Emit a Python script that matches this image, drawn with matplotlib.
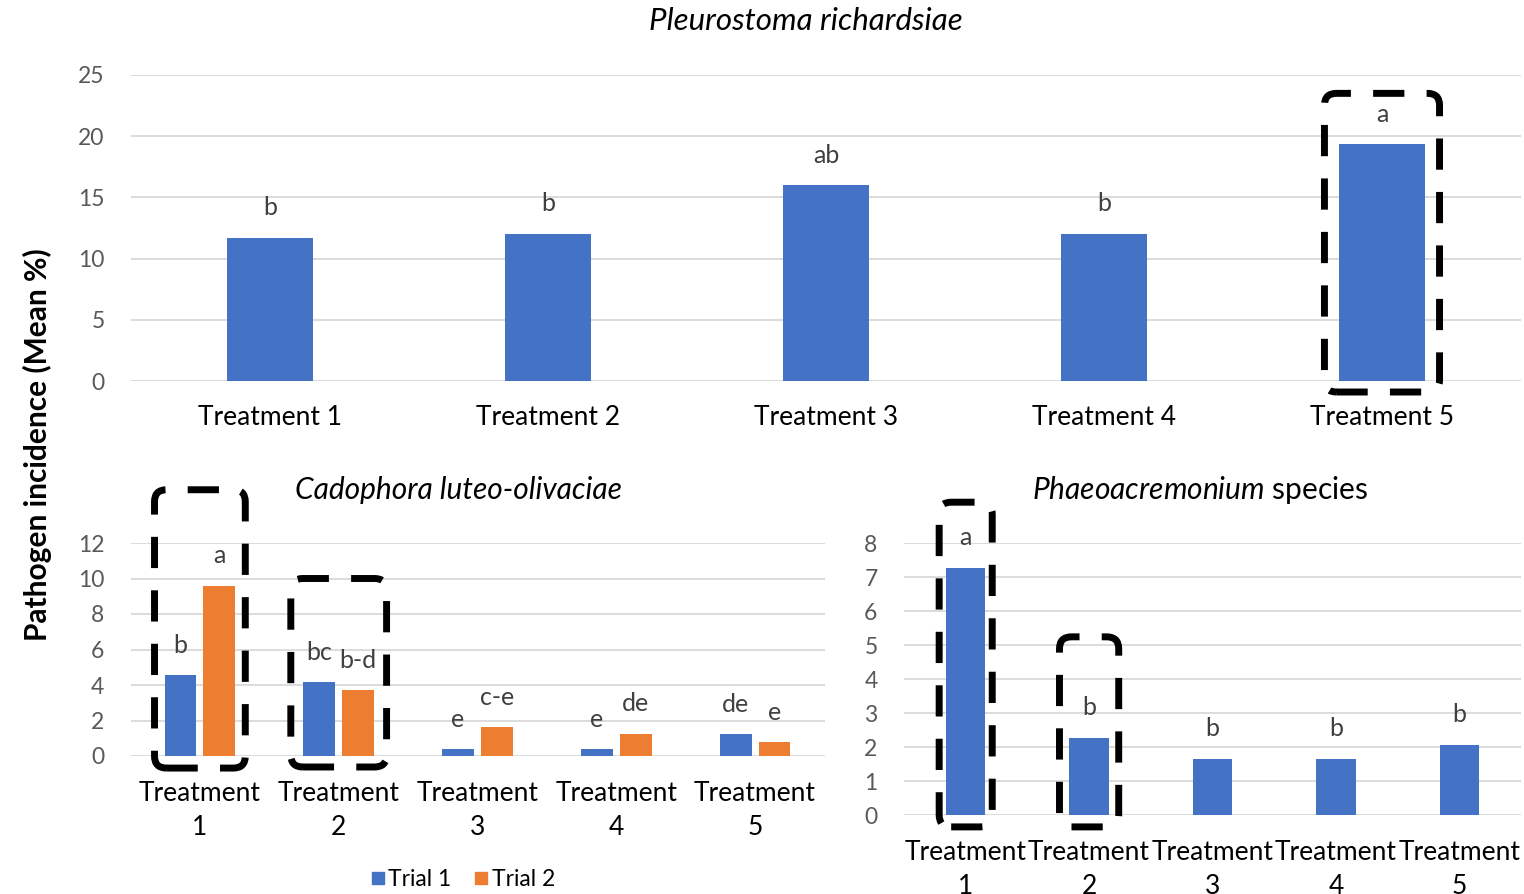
import matplotlib
matplotlib.use("Agg")
import matplotlib.pyplot as plt
from matplotlib.patches import FancyBboxPatch
from matplotlib.lines import Line2D
import numpy as np

# ---------------- data ----------------
top_categories = ["Treatment 1", "Treatment 2", "Treatment 3", "Treatment 4", "Treatment 5"]
top_values = [11.7, 12.05, 16.0, 12.05, 19.35]
top_letters = ["b", "b", "ab", "b", "a"]
top_title = "Pleurostoma richardsiae"
top_yticks = [0, 5, 10, 15, 20, 25]

cad_categories = ["Treatment\n1", "Treatment\n2", "Treatment\n3", "Treatment\n4", "Treatment\n5"]
cad_trial1 = [4.55, 4.15, 0.4, 0.4, 1.22]
cad_trial2 = [9.6, 3.72, 1.62, 1.25, 0.78]
cad_letters1 = ["b", "bc", "e", "e", "de"]
cad_letters2 = ["a", "b-d", "c-e", "de", "e"]
cad_title = "Cadophora luteo-olivaciae"
cad_yticks = [0, 2, 4, 6, 8, 10, 12]

pha_categories = ["Treatment\n1", "Treatment\n2", "Treatment\n3", "Treatment\n4", "Treatment\n5"]
pha_values = [7.27, 2.27, 1.66, 1.66, 2.07]
pha_letters = ["a", "b", "b", "b", "b"]
pha_yticks = [0, 1, 2, 3, 4, 5, 6, 7, 8]

series_names = ["Trial 1", "Trial 2"]
ylabel = "Pathogen incidence (Mean %)"

# ---------------- style ----------------
plt.rcParams['font.family'] = ['Lato', 'DejaVu Sans']
plt.rcParams['mathtext.fontset'] = 'custom'
plt.rcParams['mathtext.it'] = 'Lato:italic'
plt.rcParams['mathtext.rm'] = 'Lato'

BLUE = "#4472C4"
ORANGE = "#ED7D31"
GRID = "#D9D9D9"
TICK = "#595959"
LETTER = "#404040"
FS_TICK = 16.5
FS_CAT = 19
FS_LET = 18
FS_TITLE = 21.5

W, H = 1524, 894
fig = plt.figure(figsize=(W / 100, H / 100), dpi=100)


def px_axes(x0, x1, ytop, ybot):
    return fig.add_axes([x0 / W, 1 - ybot / H, (x1 - x0) / W, (ybot - ytop) / H])


def style(ax, ylim, yticks, cats, pad_y, pad_x, linespacing=1.2):
    ax.set_ylim(*ylim)
    ax.set_xlim(-0.5, len(cats) - 0.5)
    ax.set_yticks(yticks)
    ax.set_xticks(range(len(cats)))
    ax.set_xticklabels(cats, fontsize=FS_CAT, color="black", linespacing=linespacing)
    ax.tick_params(axis='y', length=0, pad=pad_y, labelsize=FS_TICK, labelcolor=TICK)
    ax.tick_params(axis='x', length=0, pad=pad_x)
    for s in ax.spines.values():
        s.set_visible(False)
    ax.yaxis.grid(True, color=GRID, linewidth=1.3)
    ax.set_axisbelow(True)


def letters(ax, xs, vals, labs):
    for x, v, t in zip(xs, vals, labs):
        ax.annotate(t, (x, v), xytext=(0, 21.5), textcoords="offset points",
                    ha="center", va="center", fontsize=FS_LET, color=LETTER)


def dashed_box(ax, xc, halfw, y0, y1, radius=12):
    fig.canvas.draw()
    (ax0, ay0) = ax.transData.transform((xc - halfw, y0))
    (ax1, ay1) = ax.transData.transform((xc + halfw, y1))
    p = FancyBboxPatch((ax0, ay0), ax1 - ax0, ay1 - ay0,
                       boxstyle=f"round,pad=0,rounding_size={radius}",
                       transform=None, fill=False, edgecolor="black",
                       linewidth=5, linestyle=(0, (4.5, 3.2)), capstyle="butt",
                       zorder=10)
    fig.add_artist(p)


# ---------------- top chart ----------------
ax1 = px_axes(131, 1521, 75, 381)
x = np.arange(len(top_categories))
ax1.bar(x, top_values, width=0.31, color=BLUE, zorder=3)
style(ax1, (0, 25), top_yticks, top_categories, pad_y=19, pad_x=17)
letters(ax1, x, top_values, top_letters)
fig.text(806 / W, 1 - 21 / H, top_title, ha="center", va="center",
         fontsize=22.5, style="italic")

# ---------------- bottom-left chart ----------------
ax2 = px_axes(130.5, 824.5, 543, 756)
x2 = np.arange(len(cad_categories))
off = 0.14
bw = 0.23
ax2.bar(x2 - off, cad_trial1, width=bw, color=BLUE, zorder=3, label=series_names[0])
ax2.bar(x2 + off, cad_trial2, width=bw, color=ORANGE, zorder=3, label=series_names[1])
style(ax2, (0, 12), cad_yticks, cad_categories, pad_y=19, pad_x=18, linespacing=1.45)
letters(ax2, x2 - off, cad_trial1, cad_letters1)
letters(ax2, x2 + off, cad_trial2, cad_letters2)
fig.text(458 / W, 1 - 490 / H, cad_title, ha="center", va="center",
         fontsize=FS_TITLE, style="italic")

handles = [Line2D([], [], marker="s", linestyle="none", markersize=9,
                  markerfacecolor=c, markeredgecolor=c) for c in (BLUE, ORANGE)]
fig.legend(handles, series_names, loc="center", bbox_to_anchor=(462 / W, 1 - 880 / H),
           ncol=2, frameon=False, fontsize=16.5, handletextpad=0.05, columnspacing=0.9,
           handlelength=0.8)

# ---------------- bottom-right chart ----------------
ax3 = px_axes(904, 1521, 543, 815)
x3 = np.arange(len(pha_categories))
ax3.bar(x3, pha_values, width=0.32, color=BLUE, zorder=3)
style(ax3, (0, 8), pha_yticks, pha_categories, pad_y=19, pad_x=18, linespacing=1.45)
letters(ax3, x3, pha_values, pha_letters)
fig.text(1200 / W, 1 - 490 / H, r"$\mathit{Phaeoacremonium}$ species", ha="center",
         va="center", fontsize=FS_TITLE)

# ---------------- y label ----------------
fig.text(37 / W, 1 - 445 / H, ylabel, rotation=90, ha="center", va="center",
         fontsize=21.5, fontweight="bold")

# ---------------- highlight boxes ----------------
dashed_box(ax1, 4, 0.207, -0.9, 23.5)
dashed_box(ax2, 0, 0.327, -0.68, 15.0)
dashed_box(ax2, 1, 0.345, -0.62, 10.0)
dashed_box(ax3, 0, 0.215, -0.35, 9.2)
dashed_box(ax3, 1, 0.24, -0.35, 5.24)

fig.savefig("out.png", dpi=100)
